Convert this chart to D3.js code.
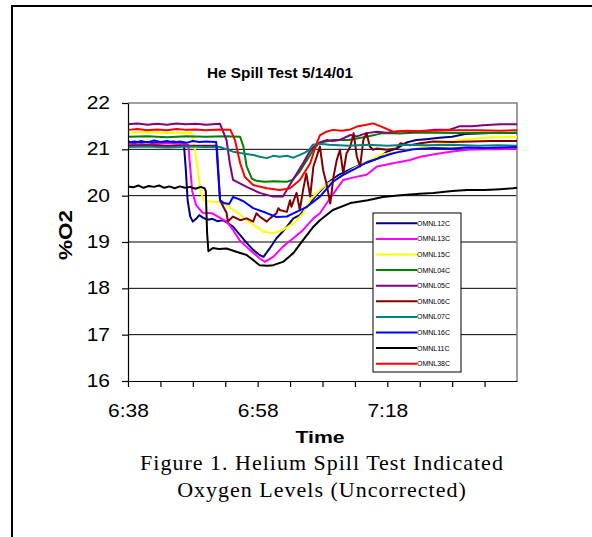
<!DOCTYPE html>
<html>
<head>
<meta charset="utf-8">
<script src="https://cdn.jsdelivr.net/npm/d3@7"></script>
<style>
  body { margin: 0; background: #fff; }
  text { font-family: "Liberation Sans", Arial, sans-serif; }
</style>
</head>
<body>
<div id="canvas"></div>
<script>
const width = 592;
const height = 537;
const margin = { top: 103, left: 128, bottom: 156, right: 75 };
const iwidth = width - margin.left - margin.right;
const iheight = height - margin.top - margin.bottom;

// minutes after 6:38, %O2
const omnl12c = [[0,21.15],[1,21.17],[2,21.14],[3,21.16],[4,21.13],[5,21.16],[6,21.15],[7,21.17],[8,21.14],[8.6,21.15],[8.9,20.6],[9.2,19.9],[9.6,19.55],[10.0,19.44],[10.5,19.5],[11.0,19.58],[11.6,19.52],[12.3,19.48],[13.0,19.5],[13.8,19.45],[14.6,19.47],[15.3,19.42],[16.2,19.33],[17.3,19.15],[18.3,18.98],[19.3,18.83],[20.3,18.72],[20.9,18.68],[21.8,18.85],[22.9,19.08],[23.7,19.2],[24.5,19.33],[25.5,19.51],[26.5,19.58],[27.5,19.75],[28.5,19.92],[29.5,20.08],[31,20.3],[32.5,20.45],[34,20.55],[35.5,20.65],[37,20.72],[38.5,20.8],[40,20.95],[41.5,21.02],[43,21.15],[44.5,21.2],[46,21.22],[48,21.25],[50,21.27],[52,21.33],[54,21.34],[56,21.35],[58,21.35],[60,21.36]];
const omnl13c = [[0,21.12],[3,21.1],[6,21.13],[9.3,21.1],[9.6,20.6],[9.9,20.1],[10.5,19.8],[11.5,19.63],[13,19.62],[14.2,19.52],[15.2,19.44],[16.2,19.26],[17.2,19.04],[18.8,18.83],[20.3,18.65],[21.1,18.57],[22.4,18.68],[23.9,18.9],[25.5,19.08],[27,19.26],[28.6,19.51],[29.6,19.62],[31.2,19.95],[33.2,20.34],[35,20.4],[36.8,20.45],[38.4,20.63],[40.9,20.7],[43.5,20.77],[45.1,20.84],[47.5,20.9],[49.7,20.95],[52.3,20.99],[55,21.0],[57.4,21.0],[60,21.02]];
const omnl15c = [[0,21.36],[3,21.37],[6,21.35],[9.8,21.36],[10.3,21.0],[10.8,20.5],[11.2,20.1],[11.7,19.9],[12.5,19.88],[14.2,19.86],[15.2,19.8],[16.2,19.69],[17.3,19.6],[18.3,19.47],[19.8,19.33],[20.9,19.22],[22.4,19.19],[23.9,19.26],[25.5,19.4],[27,19.62],[28.1,19.9],[29.6,20.12],[30.7,20.25],[33.2,20.45],[35,20.6],[36.8,20.73],[38.9,20.88],[40.9,20.93],[43.5,20.99],[47.1,21.09],[51.2,21.2],[54.8,21.25],[57,21.26],[60,21.27]];
const omnl04c = [[0,21.27],[3,21.28],[6,21.26],[9,21.28],[12,21.27],[15,21.28],[17.3,21.27],[17.8,21.06],[18.3,20.63],[19.1,20.37],[19.8,20.32],[21,20.3],[22.5,20.31],[24.5,20.3],[25.4,20.34],[26.5,20.52],[27.6,20.77],[28.6,20.99],[29.4,21.13],[30.5,21.17],[31.6,21.2],[34,21.2],[36.8,21.27],[39.3,21.35],[42,21.34],[44,21.36],[47.1,21.36],[51,21.35],[55,21.36],[60,21.35]];
const omnl05c = [[0,21.54],[1.5,21.56],[3,21.53],[4.5,21.55],[6,21.53],[7.5,21.56],[9,21.54],[10.5,21.55],[12,21.53],[14.2,21.55],[15.2,21.2],[15.7,20.7],[16.2,20.34],[18.3,20.19],[20.3,20.06],[22.4,19.98],[23.9,19.98],[24.5,20.12],[25.4,20.34],[27.0,20.7],[28.0,20.95],[28.6,21.05],[29.6,21.15],[30.6,21.2],[31.6,21.18],[32.6,21.2],[34.3,21.31],[35.3,21.28],[36.8,21.35],[38.4,21.38],[40,21.36],[42,21.39],[44,21.38],[47.1,21.42],[49.5,21.42],[51.2,21.5],[53,21.5],[54.8,21.52],[57.4,21.54],[60,21.54]];
const omnl06c = [[0,21.08],[3,21.09],[6,21.07],[9,21.08],[12,21.08],[13.7,21.08],[13.9,20.6],[14.2,19.9],[14.7,19.76],[15.2,19.63],[15.4,19.44],[16.2,19.55],[17.3,19.47],[18.3,19.51],[19.3,19.44],[19.8,19.62],[20.3,19.55],[21.4,19.44],[21.9,19.51],[22.9,19.62],[23.2,19.73],[23.4,19.69],[24.5,19.65],[25.0,19.9],[25.2,19.76],[26.0,20.06],[26.5,19.69],[27.0,20.12],[27.5,20.48],[28.1,19.98],[28.6,20.63],[29.1,20.84],[29.6,21.06],[30.1,20.55],[30.6,20.27],[31.2,19.83],[31.7,20.41],[32.2,20.77],[32.7,20.99],[33.2,20.48],[33.7,20.91],[34.3,21.06],[34.8,21.35],[35.3,20.84],[35.8,20.63],[36.3,21.2],[36.8,21.35],[37.3,21.06],[37.8,20.99],[38.4,21.02],[39.9,20.99],[41.4,21.02],[42.0,21.13],[43.5,21.09],[45.1,21.13],[47.1,21.17],[50,21.16],[53,21.17],[56,21.18],[60,21.18]];
const omnl07c = [[0,21.05],[3,21.06],[6,21.04],[9,21.06],[12,21.05],[14.2,21.05],[15.2,21.0],[16.2,20.95],[17.3,20.92],[18.3,20.9],[19.3,20.88],[20.3,20.84],[21.4,20.81],[22.4,20.86],[23.4,20.84],[24.5,20.86],[25.5,20.82],[26.5,20.88],[27.3,20.93],[28.0,21.0],[28.5,21.1],[29.5,21.12],[31,21.1],[34,21.08],[37,21.1],[40,21.08],[43,21.1],[46,21.09],[50,21.1],[54,21.08],[57,21.09],[60,21.08]];
const omnl16c = [[0,21.17],[1,21.14],[2,21.18],[3,21.15],[4,21.19],[5,21.16],[6,21.18],[7,21.15],[8,21.17],[9,21.14],[10,21.18],[11,21.16],[12,21.17],[13.6,21.16],[13.9,20.5],[14.2,19.9],[14.8,19.84],[15.6,19.82],[16.2,19.97],[17.0,19.93],[17.8,19.88],[19.3,19.73],[21.3,19.63],[22.9,19.54],[24.5,19.55],[25.5,19.62],[27.6,19.76],[29.6,19.98],[31.6,20.3],[33.2,20.45],[35,20.58],[36.8,20.72],[38.5,20.8],[40.5,20.9],[42,20.95],[44,21.0],[47.1,21.03],[50,21.02],[52.3,21.04],[55,21.03],[58,21.04],[60,21.05]];
const omnl11c = [[0,20.2],[0.8,20.18],[1.6,20.22],[2.4,20.17],[3.2,20.21],[4,20.19],[4.8,20.22],[5.6,20.17],[6.4,20.2],[7.2,20.16],[8,20.2],[8.8,20.17],[9.6,20.19],[10.4,20.15],[11.2,20.19],[11.8,20.16],[12.0,20.1],[12.2,19.2],[12.4,18.8],[13.1,18.87],[14,18.85],[15.2,18.86],[16.7,18.79],[18.3,18.72],[19.3,18.61],[20.3,18.5],[21.5,18.49],[22.4,18.5],[23.9,18.57],[25.5,18.76],[27,19.04],[28.6,19.33],[29.6,19.47],[31.6,19.69],[34.3,19.84],[37,19.9],[39.3,19.97],[42,20.01],[45,20.04],[47.1,20.06],[50,20.1],[52.3,20.12],[55,20.12],[57.4,20.14],[59.4,20.16],[60,20.17]];
const omnl38c = [[0,21.42],[1.5,21.44],[3,21.41],[4.5,21.43],[6,21.41],[7.5,21.44],[9,21.42],[10.5,21.43],[12,21.41],[14,21.43],[15.8,21.42],[16.5,21.2],[17.3,20.7],[18.0,20.41],[19.3,20.23],[21.4,20.16],[23.4,20.12],[25.0,20.16],[26.5,20.34],[28.1,20.7],[29.1,21.13],[29.6,21.3],[30.6,21.38],[31.6,21.42],[33,21.4],[34.3,21.43],[35.5,21.5],[36.8,21.53],[37.8,21.56],[38.9,21.5],[40.9,21.38],[43,21.4],[45,21.39],[47.1,21.4],[50,21.41],[54,21.41],[57.4,21.4],[60,21.41]];

const seriesNames = ["OMNL12C", "OMNL13C", "OMNL15C", "OMNL04C", "OMNL05C", "OMNL06C", "OMNL07C", "OMNL16C", "OMNL11C", "OMNL38C"];
const seriesData = [omnl12c, omnl13c, omnl15c, omnl04c, omnl05c, omnl06c, omnl07c, omnl16c, omnl11c, omnl38c];
const seriesColors = ["#000080", "#ff00ff", "#ffff00", "#008000", "#800080", "#800000", "#008080", "#0000ff", "#000000", "#ff0000"];

const yTicks = [16, 17, 18, 19, 20, 21, 22];
const tickMinutes = [0, 5, 10, 15, 20, 25, 30, 35, 40, 45, 50, 55];
const labelMinutes = [0, 20, 40];

const t0 = new Date(2001, 4, 14, 6, 38);
const toTime = (m) => new Date(t0.getTime() + m * 60000);

const svg = d3.select("#canvas").append("svg")
  .attr("width", width)
  .attr("height", height);

// outer frame (top and left edges visible)
svg.append("path")
  .attr("d", `M12,${height} V6 H${width}`)
  .attr("fill", "none")
  .attr("stroke", "#000")
  .attr("stroke-width", 2);

const g = svg.append("g")
  .attr("transform", `translate(${margin.left},${margin.top})`);

const x = d3.scaleTime()
  .domain([t0, toTime(60)])
  .range([0, iwidth]);

const y = d3.scaleLinear()
  .domain([16, 22])
  .range([iheight, 0]);

// gridlines
g.selectAll(".grid")
  .data(yTicks.filter((d) => d > 16 && d < 22))
  .enter().append("line")
  .attr("x1", 0).attr("x2", iwidth)
  .attr("y1", (d) => y(d)).attr("y2", (d) => y(d))
  .attr("stroke", "#000")
  .attr("stroke-width", 1);

// plot area border top / right
g.append("path")
  .attr("d", `M0,${y(22)} H${iwidth} V${iheight}`)
  .attr("fill", "none")
  .attr("stroke", "#808080")
  .attr("stroke-width", 1.5);

const line = d3.line()
  .x((d) => x(toTime(d[0])))
  .y((d) => y(d[1]));

g.selectAll(".serie")
  .data(seriesData)
  .enter().append("path")
  .attr("class", "serie")
  .attr("d", line)
  .attr("fill", "none")
  .attr("stroke", (d, i) => seriesColors[i])
  .attr("stroke-width", 2)
  .attr("stroke-linejoin", "round");

const fmt = d3.timeFormat("%-H:%M");

const xAxis = g.append("g")
  .attr("transform", `translate(0,${iheight})`)
  .call(d3.axisBottom(x)
    .tickValues(tickMinutes.map(toTime))
    .tickSize(6)
    .tickSizeOuter(0)
    .tickFormat((d) => labelMinutes.includes(Math.round((d - t0) / 60000)) ? fmt(d) : ""));

xAxis.select(".domain").attr("stroke", "#000").attr("stroke-width", 1.2);
xAxis.selectAll(".tick line").attr("stroke", "#000").attr("stroke-width", 1.2);
xAxis.selectAll(".tick text")
  .attr("y", 0).attr("dy", 0)
  .attr("font-size", 17.5)
  .attr("fill", "#000")
  .attr("transform", "translate(0,36) scale(1.2,1)");

const yAxis = g.append("g")
  .call(d3.axisLeft(y).tickValues(yTicks).tickFormat(d3.format("d")).tickSize(6).tickSizeOuter(0));

yAxis.select(".domain").attr("stroke", "#000").attr("stroke-width", 1.2);
yAxis.selectAll(".tick line").attr("stroke", "#000").attr("stroke-width", 1.2);
yAxis.selectAll(".tick text")
  .attr("x", 0)
  .attr("font-size", 17.5)
  .attr("fill", "#000")
  .attr("transform", "translate(-18,0) scale(1.2,1)");

// titles
svg.append("text")
  .attr("transform", "translate(280,78) scale(1.02,1)")
  .attr("text-anchor", "middle")
  .attr("font-weight", "bold")
  .attr("font-size", 15)
  .text("He Spill Test 5/14/01");

svg.append("text")
  .attr("transform", "translate(320,443) scale(1.25,1)")
  .attr("text-anchor", "middle")
  .attr("font-weight", "bold")
  .attr("font-size", 17)
  .text("Time");

svg.append("text")
  .attr("transform", "translate(72,235) rotate(-90) scale(1.25,1)")
  .attr("text-anchor", "middle")
  .attr("font-weight", "bold")
  .attr("font-size", 18)
  .text("%O2");

// legend
const legend = svg.append("g").attr("transform", "translate(373,213)");
legend.append("rect")
  .attr("width", 88).attr("height", 159)
  .attr("fill", "#fff")
  .attr("stroke", "#000")
  .attr("stroke-width", 1);

const entries = legend.selectAll(".entry")
  .data(seriesNames)
  .enter().append("g")
  .attr("transform", (d, i) => `translate(0,${10.3 + i * 15.6})`);

entries.append("line")
  .attr("x1", 3).attr("x2", 44)
  .attr("stroke", (d, i) => seriesColors[i])
  .attr("stroke-width", 2);

entries.append("text")
  .attr("x", 44)
  .attr("dy", "0.35em")
  .attr("font-size", 7)
  .text((d) => d);

// caption
const caption = svg.append("g")
  .attr("font-size", 22)
  .attr("letter-spacing", "1px")
  .attr("text-anchor", "middle");

caption.append("text").attr("x", 322).attr("y", 470)
  .style("font-family", "'Liberation Serif', 'Times New Roman', serif")
  .text("Figure 1. Helium Spill Test Indicated");
caption.append("text").attr("x", 322).attr("y", 497)
  .style("font-family", "'Liberation Serif', 'Times New Roman', serif")
  .text("Oxygen Levels (Uncorrected)");
</script>
</body>
</html>
